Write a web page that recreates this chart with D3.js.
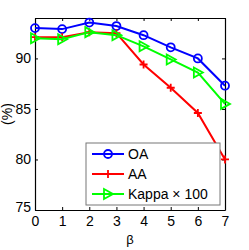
<!DOCTYPE html>
<html>
<head>
<meta charset="utf-8">
<script src="https://cdn.jsdelivr.net/npm/d3@7"></script>
<style>
  body { margin: 0; background: #fff; }
  text { font-family: "Liberation Sans", Arial, sans-serif; }
</style>
</head>
<body>
<script>
const betas = [0, 1, 2, 3, 4, 5, 6, 7];
const oa    = [93.0, 92.9, 93.55, 93.2, 92.3, 91.1, 90.0, 87.3];
const aa    = [92.1, 92.1, 92.6, 92.5, 89.4, 87.1, 84.6, 80.0];
const kappa = [92.0, 91.9, 92.6, 92.3, 91.2, 89.9, 88.6, 85.5];
const yTicks = [75, 80, 85, 90];
const seriesNames = ["OA", "AA", "Kappa \u00d7 100"];

const width = 249, height = 250;
const margin = { left: 35, right: 24, top: 18, bottom: 40 };

const x = d3.scaleLinear().domain([0, 7]).range([margin.left, width - margin.right]);
const y = d3.scaleLinear().domain([75, 94]).range([height - margin.bottom, margin.top]);

const svg = d3.select("body").append("svg")
    .attr("width", width)
    .attr("height", height);

// axes with inward ticks
const xb = svg.append("g").attr("transform", `translate(0,${y(75)})`)
    .call(d3.axisBottom(x).tickValues(betas).tickFormat(d3.format("d"))
        .tickSizeInner(-3).tickSizeOuter(0).tickPadding(6));
const xt = svg.append("g").attr("transform", `translate(0,${y(94)})`)
    .call(d3.axisTop(x).tickValues(betas).tickSizeInner(-3).tickSizeOuter(0).tickFormat(""));
const yl = svg.append("g").attr("transform", `translate(${x(0)},0)`)
    .call(d3.axisLeft(y).tickValues(yTicks).tickSizeInner(-3).tickSizeOuter(0).tickPadding(4));
const yr = svg.append("g").attr("transform", `translate(${x(7)},0)`)
    .call(d3.axisRight(y).tickValues(yTicks).tickSizeInner(-3).tickSizeOuter(0).tickFormat(""));

[xb, xt, yl, yr].forEach(g => {
    g.selectAll("path").attr("stroke", "#000").attr("stroke-width", 1.2);
    g.selectAll("line").attr("stroke", "#000");
    g.selectAll("text").attr("font-size", 14).attr("fill", "#000")
        .style("font-family", "'Liberation Sans', Arial, sans-serif");
});
// lift the 75 label slightly as in the reference
yl.selectAll(".tick text").filter(d => d === 75).attr("dy", "0.1em");

svg.append("text")
    .attr("transform", `translate(12,${(y(75) + y(94)) / 2}) rotate(-90)`)
    .attr("text-anchor", "middle")
    .attr("font-size", 14)
    .text("(%)");

svg.append("text")
    .attr("x", (x(0) + x(7)) / 2)
    .attr("y", 244)
    .attr("text-anchor", "middle")
    .attr("font-size", 13)
    .text("\u03b2");

const colors = ["#0000ff", "#ff0000", "#00ff00"];
const series = [oa, aa, kappa];

const line = d3.line().x((d, i) => x(betas[i])).y(d => y(d));

function drawMarker(g, k, cx, cy) {
    if (k === 0) {
        g.append("circle").attr("cx", cx).attr("cy", cy).attr("r", 4)
            .attr("fill", "none").attr("stroke", colors[k]).attr("stroke-width", 1.8);
    } else if (k === 1) {
        g.append("path").attr("d", `M${cx - 4},${cy}H${cx + 4}M${cx},${cy - 4}V${cy + 4}`)
            .attr("stroke", colors[k]).attr("stroke-width", 1.8);
    } else {
        g.append("path").attr("d", `M${cx - 4},${cy - 5}L${cx + 5},${cy}L${cx - 4},${cy + 5}Z`)
            .attr("fill", "none").attr("stroke", colors[k]).attr("stroke-width", 1.8);
    }
}

const plot = svg.append("g");
series.forEach((vals, k) => {
    plot.append("path").datum(vals)
        .attr("d", line)
        .attr("fill", "none")
        .attr("stroke", colors[k])
        .attr("stroke-width", 2);
    vals.forEach((v, i) => drawMarker(plot, k, x(betas[i]), y(v)));
});

// legend
const lg = svg.append("g");
lg.append("rect").attr("x", 86).attr("y", 143).attr("width", 134).attr("height", 62)
    .attr("fill", "#fff").attr("stroke", "#777").attr("stroke-width", 1);
seriesNames.forEach((name, k) => {
    const ry = 154 + k * 20;
    lg.append("line").attr("x1", 92).attr("x2", 124).attr("y1", ry).attr("y2", ry)
        .attr("stroke", colors[k]).attr("stroke-width", 2);
    drawMarker(lg, k, 108, ry);
    lg.append("text").attr("x", 128).attr("y", ry + 5).attr("font-size", 14).text(name);
});
</script>
</body>
</html>
